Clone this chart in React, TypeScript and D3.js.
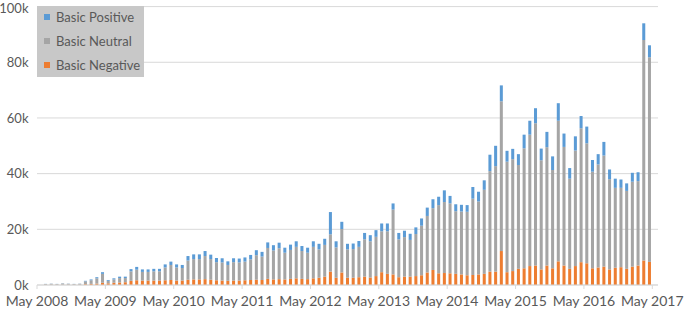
import React from "react";
import * as d3 from "d3";

// Axis spans May 2008 .. May 2017 (monthly); data runs Jun 2008 .. Apr 2017
const axisStart = new Date(2008, 4, 1);
const axisEnd = new Date(2017, 5, 1);
const dataStart = new Date(2008, 5, 1);

const tickLabels = [
  "May 2008", "May 2009", "May 2010", "May 2011", "May 2012",
  "May 2013", "May 2014", "May 2015", "May 2016", "May 2017",
];
const yTicks = [0, 20, 40, 60, 80, 100]; // thousands

const seriesNames = ["Basic Positive", "Basic Neutral", "Basic Negative"];
const seriesColors = ["#5B9BD5", "#A5A5A5", "#ED7D31"];

// values in thousands, one per month from Jun 2008
const negative = [
  0.1, 0.1, 0.1, 0.1, 0.1, 0.1, 0.1, 0.3, 0.4, 0.5, 0.8, 0.6, 0.8, 0.9, 1.0, 1.5,
  1.7, 1.6, 1.6, 1.6, 1.6, 1.7, 1.8, 1.6, 1.6, 1.9, 2.0, 2.0, 2.1, 1.9, 1.7, 1.6,
  1.5, 1.6, 1.6, 1.7, 1.8, 1.9, 1.8, 2.2, 2.0, 2.1, 2.0, 2.2, 2.4, 2.2, 2.1, 2.4,
  2.6, 3.0, 4.8, 2.6, 4.5, 2.6, 2.6, 2.8, 3.0, 2.7, 3.2, 4.6, 4.0, 3.8, 2.8, 3.0,
  3.0, 3.2, 3.5, 4.5, 5.4, 4.2, 4.3, 4.2, 4.0, 3.8, 3.5, 3.6, 3.8, 4.0, 4.8, 4.8,
  12.2, 4.6, 5.0, 5.8, 6.0, 6.8, 7.0, 5.6, 7.0, 6.0, 8.5, 7.0, 5.8, 6.8, 8.2, 7.8,
  6.0, 6.3, 6.6, 5.6, 6.2, 6.4, 5.8, 6.6, 7.0, 8.8, 8.3,
];
const neutral = [
  0.25, 0.35, 0.25, 0.45, 0.35, 0.25, 0.35, 1.0, 1.3, 1.9, 3.2, 0.9, 1.2, 1.6, 1.5, 3.4,
  3.8, 3.1, 3.1, 3.3, 3.3, 4.6, 5.4, 4.7, 4.5, 6.9, 7.3, 7.3, 8.3, 7.4, 6.5, 6.5,
  5.7, 6.6, 6.5, 6.7, 7.4, 8.8, 8.4, 11.1, 10.4, 11.1, 9.6, 10.4, 11.3, 10.0, 9.5, 11.3,
  10.2, 11.4, 13.4, 10.9, 15.6, 10.2, 10.3, 10.9, 13.4, 13.0, 14.1, 14.7, 15.3, 23.3, 13.6, 14.2,
  13.2, 15.1, 17.8, 20.3, 22.2, 24.5, 25.5, 25.1, 22.5, 22.6, 22.8, 27.4, 26.2, 30.2, 36.1, 37.9,
  53.8, 39.7, 40.2, 37.3, 43.1, 47.2, 51.1, 39.2, 42.5, 35.3, 50.5, 42.6, 32.4, 41.5, 48.1, 43.1,
  34.7, 37.0, 39.9, 32.4, 28.7, 28.5, 28.0, 30.5, 30.3, 79.2, 73.5,
];
const positive = [
  0.05, 0.05, 0.05, 0.05, 0.05, 0.05, 0.05, 0.2, 0.3, 0.4, 0.6, 0.3, 0.4, 0.5, 0.5, 0.8,
  1.0, 0.9, 0.9, 0.9, 0.9, 1.1, 1.2, 1.1, 1.1, 1.6, 1.7, 1.7, 1.8, 1.6, 1.5, 1.5,
  1.3, 1.4, 1.4, 1.5, 1.6, 1.8, 1.7, 2.0, 1.9, 2.0, 1.8, 1.9, 2.0, 1.8, 1.8, 2.0,
  2.0, 2.2, 8.0, 2.2, 2.6, 2.0, 2.0, 2.1, 2.3, 2.2, 2.4, 2.8, 2.8, 2.2, 2.3, 2.3,
  2.2, 2.4, 2.6, 3.0, 3.2, 3.0, 4.2, 2.7, 2.5, 2.4, 2.4, 4.2, 3.5, 3.4, 5.9, 7.3,
  5.7, 3.9, 3.7, 3.9, 4.9, 5.0, 5.4, 4.2, 5.5, 4.9, 6.3, 4.8, 3.8, 5.1, 4.4, 6.0,
  4.2, 3.7, 4.9, 3.5, 3.3, 3.0, 2.7, 3.2, 3.2, 6.0, 4.3,
];

const W = 685;
const H = 311;
const plotLeft = 37;
const plotRight = 658;
const plotBottom = 285;
const plotTop = 6.6;
const font = "Lato, 'Open Sans', sans-serif";
const textColor = "#595959";
const gridColor = "#D9D9D9";

export default function App() {
  const months = d3.timeMonth.range(axisStart, axisEnd);
  const monthKey = (d: Date) => d3.timeFormat("%Y-%m")(d);
  const firstIdx = months.findIndex((m) => monthKey(m) === monthKey(dataStart));

  const rows = negative.map((_, i) => ({
    key: monthKey(months[firstIdx + i]),
    negative: negative[i],
    neutral: neutral[i],
    positive: positive[i],
  }));

  const x = d3
    .scaleBand<string>()
    .domain(months.map(monthKey))
    .range([plotLeft, plotRight])
    .paddingInner(0.47)
    .paddingOuter(0.235);
  const y = d3.scaleLinear().domain([0, 100]).range([plotBottom, plotTop]);

  const stack = d3.stack<any>().keys(["negative", "neutral", "positive"]);
  const layers = stack(rows);
  const layerColor: Record<string, string> = {
    negative: seriesColors[2],
    neutral: seriesColors[1],
    positive: seriesColors[0],
  };

  const step = x.step();
  const tickMonths = months.filter((m) => m.getMonth() === 4);
  const tickX = (m: Date) => (x(monthKey(m)) as number) - (step * x.paddingInner()) / 2;

  return (
    <svg
      width={W}
      height={H}
      style={{ position: "absolute", left: 0, top: 0, background: "#fff" }}
      fontFamily={font}
    >
      {yTicks.map((t) => (
        <g key={t}>
          <line
            x1={plotLeft}
            x2={plotRight}
            y1={y(t)}
            y2={y(t)}
            stroke={gridColor}
            strokeWidth={1}
          />
          <text
            x={28.5}
            y={Math.max(y(t), 8.6)}
            dy="0.35em"
            textAnchor="end"
            fontSize={13}
            fill={textColor}
          >
            {`${t}k`}
          </text>
        </g>
      ))}
      {layers.map((layer) => (
        <g key={layer.key} fill={layerColor[layer.key]}>
          {layer.map((d: any, i: number) => (
            <rect
              key={i}
              x={x(d.data.key)}
              width={x.bandwidth()}
              y={y(d[1])}
              height={Math.max(0, y(d[0]) - y(d[1]))}
            />
          ))}
        </g>
      ))}
      <line x1={plotLeft} x2={plotRight} y1={plotBottom} y2={plotBottom} stroke={gridColor} />
      {tickMonths.map((m, i) => (
        <g key={i}>
          <line
            x1={tickX(m)}
            x2={tickX(m)}
            y1={plotBottom}
            y2={plotBottom + 4}
            stroke={gridColor}
          />
          <text
            x={tickX(m)}
            y={306}
            textAnchor="middle"
            fontSize={14}
            fill={textColor}
          >
            {tickLabels[i]}
          </text>
        </g>
      ))}
      <g>
        <rect x={37} y={6} width={107} height={71} fill="#C8C8C8" />
        {seriesNames.map((name, i) => (
          <g key={name} transform={`translate(0, ${i * 24})`}>
            <rect x={44} y={14} width={6} height={6} fill={seriesColors[i]} />
            <text x={56} y={17} dy="0.35em" fontSize={13} fill={textColor}>
              {name}
            </text>
          </g>
        ))}
      </g>
    </svg>
  );
}
